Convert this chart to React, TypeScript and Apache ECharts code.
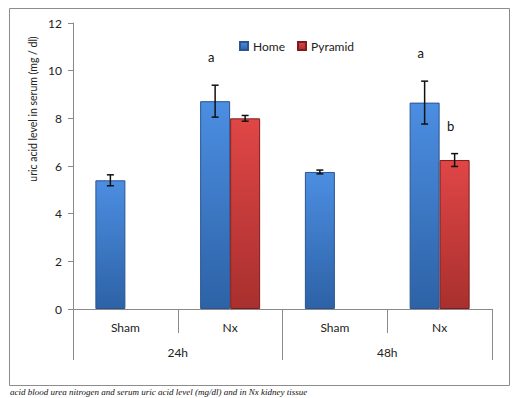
import React, { useEffect, useRef } from "react";
import * as echarts from "echarts";

const categories = ["Sham", "Nx", "Sham", "Nx"];
const groups = ["24h", "48h"];
const seriesNames = ["Home", "Pyramid"];
const homeMeans = [5.4, 8.72, 5.75, 8.66];
const homeErrs = [0.23, 0.67, 0.08, 0.9];
const homeLetters = ["", "a", "", "a"];
const pyramidMeans: (number | null)[] = [null, 8.0, null, 6.25];
const pyramidErrs: (number | null)[] = [null, 0.12, null, 0.27];
const pyramidLetters = ["", "", "", "b"];
const yTicks = { min: 0, max: 12, interval: 2 };
const yTitle = "uric acid level in serum (mg / dl)";
const caption = "acid blood urea nitrogen and serum uric acid level (mg/dl) and in Nx kidney tissue";

const FONT = "Lato";
const AXIS_GRAY = "#8a8a8a";

function errorSeries(means: (number | null)[], errs: (number | null)[], letters: string[], offset: number) {
  const data: any[] = [];
  means.forEach((m, i) => {
    if (m !== null && errs[i] !== null) data.push([i, m, errs[i], letters[i]]);
  });
  return {
    type: "custom",
    xAxisIndex: 0,
    yAxisIndex: 0,
    z: 10,
    silent: true,
    encode: { x: 0, y: 1 },
    data,
    renderItem: (params: any, api: any) => {
      const i = api.value(0);
      const mean = api.value(1);
      const err = api.value(2);
      const letter = data[params.dataIndex][3];
      const top = api.coord([i, mean + err]);
      const bot = api.coord([i, mean - err]);
      const x = top[0] + offset;
      const cap = 3.5;
      const st = { stroke: "#111", lineWidth: 1.5 };
      const children: any[] = [
        { type: "line", shape: { x1: x, y1: top[1], x2: x, y2: bot[1] }, style: st },
        { type: "line", shape: { x1: x - cap, y1: top[1], x2: x + cap, y2: top[1] }, style: st },
        { type: "line", shape: { x1: x - cap, y1: bot[1], x2: x + cap, y2: bot[1] }, style: st },
      ];
      if (letter) {
        children.push({
          type: "text",
          x: x - 4,
          y: top[1] - 28,
          style: {
            text: letter,
            fill: "#111",
            font: `13px ${FONT}`,
            textAlign: "center",
            textVerticalAlign: "middle",
          },
        });
      }
      return { type: "group", children };
    },
  };
}

const blueFill = new echarts.graphic.LinearGradient(0, 0, 0, 1, [
  { offset: 0, color: "#4c8ee2" },
  { offset: 1, color: "#2d62a6" },
]);
const redFill = new echarts.graphic.LinearGradient(0, 0, 0, 1, [
  { offset: 0, color: "#e04646" },
  { offset: 1, color: "#a8302e" },
]);

export default function App() {
  const ref = useRef<HTMLDivElement>(null);
  useEffect(() => {
    if (!ref.current) return;
    const chart = echarts.init(ref.current, undefined, { renderer: "svg" });
    chart.setOption({
      animation: false,
      backgroundColor: "#ffffff",
      grid: { left: 73, right: 28, top: 23, bottom: 89, containLabel: false },
      legend: {
        data: seriesNames,
        left: 234,
        top: 35,
        icon: "rect",
        itemWidth: 8,
        itemHeight: 8,
        itemGap: 12,
        textStyle: { fontFamily: FONT, fontSize: 12, color: "#222" },
      },
      xAxis: [
        {
          type: "category",
          data: categories,
          position: "bottom",
          axisLine: { show: true, lineStyle: { color: AXIS_GRAY, width: 1 } },
          axisTick: { show: true, length: 24, interval: 0, lineStyle: { color: AXIS_GRAY } },
          axisLabel: { margin: 12, fontFamily: FONT, fontSize: 12, color: "#222", interval: 0 },
        },
        {
          type: "category",
          data: groups,
          position: "bottom",
          axisLine: { show: false },
          axisTick: { show: true, length: 51, interval: 0, lineStyle: { color: AXIS_GRAY } },
          axisLabel: { margin: 37, fontFamily: FONT, fontSize: 12, color: "#222", interval: 0 },
        },
      ],
      yAxis: {
        type: "value",
        min: yTicks.min,
        max: yTicks.max,
        interval: yTicks.interval,
        axisLine: { show: true, lineStyle: { color: AXIS_GRAY } },
        axisTick: { show: true, length: 5, lineStyle: { color: AXIS_GRAY } },
        splitLine: { show: false },
        axisLabel: { margin: 11, fontFamily: FONT, fontSize: 12, color: "#222" },
      },
      series: [
        {
          name: seriesNames[0],
          type: "bar",
          xAxisIndex: 0,
          barWidth: 30,
          barGap: "0%",
          data: homeMeans,
          itemStyle: { color: blueFill, borderColor: "#2a5590", borderWidth: 1 },
        },
        {
          name: seriesNames[1],
          type: "bar",
          xAxisIndex: 0,
          barWidth: 30,
          barGap: "0%",
          data: pyramidMeans,
          itemStyle: { color: redFill, borderColor: "#7e1c1c", borderWidth: 1 },
        },
        errorSeries(homeMeans, homeErrs, homeLetters, -15),
        errorSeries(pyramidMeans, pyramidErrs, pyramidLetters, 15),
      ],
      graphic: [
        {
          type: "rect",
          shape: { x: 9.5, y: 8.5, width: 500, height: 377 },
          style: { fill: "none", stroke: "#8c8c8c", lineWidth: 1 },
          z: -1,
        },
        {
          type: "text",
          x: 33,
          y: 109,
          rotation: Math.PI / 2,
          style: {
            text: yTitle,
            font: `10.5px ${FONT}`,
            fill: "#222",
            textAlign: "center",
            textVerticalAlign: "middle",
          },
        },
        {
          type: "text",
          x: 10,
          y: 387,
          style: {
            text: caption,
            font: `italic 9px "Liberation Serif"`,
            fill: "#111",
            textAlign: "left",
            textVerticalAlign: "top",
          },
        },
      ],
    });
    return () => chart.dispose();
  }, []);
  return (
    <div
      ref={ref}
      style={{ position: "absolute", left: 0, top: 0, width: 520, height: 398, overflow: "hidden" }}
    />
  );
}
